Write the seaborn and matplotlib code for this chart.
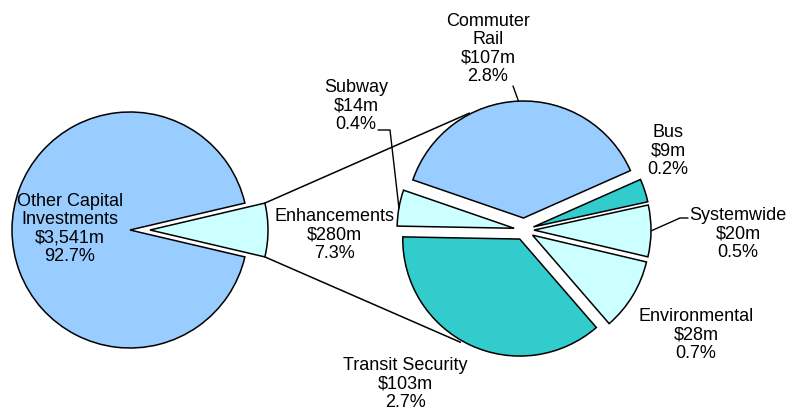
import numpy as np
import matplotlib
matplotlib.use("Agg")
import matplotlib.pyplot as plt
import seaborn as sns

# Capital program: overall split and the breakdown of Enhancements
main_names = ["Enhancements", "Other Capital\nInvestments"]
main_values = [280, 3541]
main_value_text = ["$280m", "$3,541m"]
main_shares = ["7.3%", "92.7%"]

sub_names = ["Commuter\nRail", "Bus", "Systemwide", "Environmental",
             "Transit Security", "Subway"]
sub_values = [107, 9, 20, 28, 103, 14]
sub_value_text = ["$107m", "$9m", "$20m", "$28m", "$103m", "$14m"]
sub_shares = ["2.8%", "0.2%", "0.5%", "0.7%", "2.7%", "0.4%"]

sns.set_theme(style="white")
plt.rcParams["font.family"] = ["Liberation Sans", "DejaVu Sans"]

LIGHT_BLUE, PALE, TEAL = sns.color_palette(["#99CCFF", "#CCFFFF", "#33CCCC"])
main_colors = [PALE, LIGHT_BLUE]
sub_colors = [LIGHT_BLUE, TEAL, PALE, PALE, TEAL, PALE]

W, H = 805, 413
fig = plt.figure(figsize=(W / 100, H / 100), dpi=100)
ax = fig.add_axes([0, 0, 1, 1])


def P(x, y):
    """Convert top-left pixel coordinates to axis coordinates."""
    return x, H - y


edge = dict(edgecolor="black", linewidth=1.1)

# left pie: whole program, Enhancements pulled out to the right
left_c = P(130, 230)
left_r = 118
half = 180.0 * main_values[0] / sum(main_values)
left_wedges, _ = ax.pie(main_values, colors=main_colors, center=left_c,
                        radius=left_r, startangle=-half, counterclock=True,
                        explode=[20, 0], wedgeprops=edge, frame=True)

# right pie: Enhancements broken down, every slice pulled out
right_c = P(524, 230)
right_r = 117
right_wedges, _ = ax.pie(sub_values, colors=sub_colors, center=right_c,
                         radius=right_r, startangle=161, counterclock=False,
                         explode=[12, 10, 10, 10, 10, 10], wedgeprops=edge,
                         frame=True)


def rim_point(wedge, ang=None):
    if ang is None:
        ang = 0.5 * (wedge.theta1 + wedge.theta2)
    a = np.deg2rad(ang)
    cx, cy = wedge.center
    return cx + wedge.r * np.cos(a), cy + wedge.r * np.sin(a)


# connector lines from the Enhancements slice to the breakdown pie
enh = left_wedges[0]
top_l = rim_point(enh, enh.theta2)
bot_l = rim_point(enh, enh.theta1)
reach = right_r + 12
a_top, a_bot = np.deg2rad(115), np.deg2rad(-119.5)
top_r = (right_c[0] + reach * np.cos(a_top), right_c[1] + reach * np.sin(a_top))
bot_r = (right_c[0] + reach * np.cos(a_bot), right_c[1] + reach * np.sin(a_bot))
for a, b in [(top_l, top_r), (bot_l, bot_r)]:
    ax.plot([a[0], b[0]], [a[1], b[1]], color="black", lw=1.1, zorder=1)

font = dict(fontsize=13, ha="center", va="center", multialignment="center",
            linespacing=1.1, color="black")

# labels of the left pie
main_pos = [P(334, 235), P(70, 229)]
for name, val, sh, pos in zip(main_names, main_value_text, main_shares, main_pos):
    ax.text(*pos, f"{name}\n{val}\n{sh}", **font)

# labels of the right pie
sub_pos = [P(488, 49), P(668, 151), P(738, 234), P(696, 335),
           P(405, 384), P(356, 106)]
for name, val, sh, pos in zip(sub_names, sub_value_text, sub_shares, sub_pos):
    ax.text(*pos, f"{name}\n{val}\n{sh}", **font)

# leader lines from labels to their slices
leaders = {
    0: [P(513, 86)],
    2: [P(680, 218), P(688, 218)],
    5: [P(390, 130), P(378, 130)],
}
for idx, pts in leaders.items():
    start = rim_point(right_wedges[idx])
    xs = [start[0]] + [p[0] for p in pts]
    ys = [start[1]] + [p[1] for p in pts]
    ax.plot(xs, ys, color="black", lw=1.0, zorder=3)

ax.set_xlim(0, W)
ax.set_ylim(0, H)
ax.set_aspect("equal")
ax.axis("off")

fig.savefig("out.png", dpi=100, facecolor="white")
